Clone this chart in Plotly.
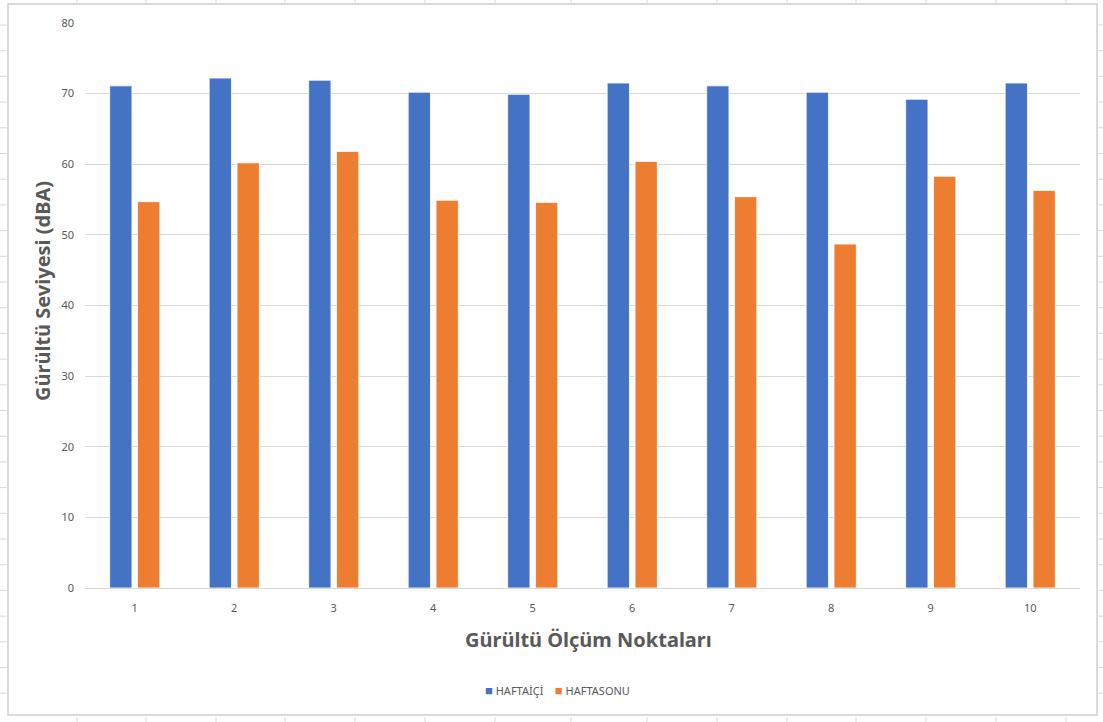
import plotly.graph_objects as go

# Measurement points and noise levels (dBA)
points = ["1", "2", "3", "4", "5", "6", "7", "8", "9", "10"]
haftaici = [71.1, 72.2, 71.9, 70.2, 69.9, 71.5, 71.1, 70.2, 69.2, 71.5]
haftasonu = [54.7, 60.2, 61.8, 54.9, 54.6, 60.4, 55.4, 48.7, 58.3, 56.3]
y_ticks = [0, 10, 20, 30, 40, 50, 60, 70, 80]
series_names = ["HAFTAİÇİ", "HAFTASONU"]
series_colors = ["#4472C4", "#ED7D31"]

W, H = 1103, 722
L, R, T, B = 85, 1080, 23, 588  # plot area in pixels

def px(x):
    return (x - L) / (R - L)

def py(y):
    return (B - y) / (B - T)

TEXT = "#595959"
GRID = "#d9d9d9"
SHEET = "#dadada"
FONT = "Noto Sans, Open Sans, sans-serif"

fig = go.Figure()
for name, vals, col in zip(series_names, [haftaici, haftasonu], series_colors):
    fig.add_trace(go.Bar(
        x=points, y=vals, name=name, showlegend=False,
        marker=dict(color=col, line=dict(color="#ffffff", width=0.8)),
    ))

shapes = []
# spreadsheet cell lines around the chart object
col_x = [77, 146, 216, 285, 355, 425, 495, 571, 647, 717, 787, 856, 926, 996, 1066]
for cx in col_x:
    for y0, y1 in ((0, 4), (717, 722)):
        shapes.append(dict(type="line", xref="paper", yref="paper",
                           x0=px(cx), x1=px(cx), y0=py(y0), y1=py(y1),
                           line=dict(color=SHEET, width=1)))
for k in range(27):
    ry = 25 + 25.7 * k
    for x0, x1 in ((0, 8), (1097, 1103)):
        shapes.append(dict(type="line", xref="paper", yref="paper",
                           x0=px(x0), x1=px(x1), y0=py(ry), y1=py(ry),
                           line=dict(color=SHEET, width=1)))
# chart frame
shapes.append(dict(type="rect", xref="paper", yref="paper",
                   x0=px(8), x1=px(1097), y0=py(715), y1=py(4),
                   line=dict(color="#d0d0d0", width=1.5), layer="below"))

# compact legend row under the axis title
legend_text = "&nbsp;&nbsp;&nbsp;&nbsp;".join(
    f"<span style='color:{c};font-size:13px'>■</span>"
    f"<span style='color:{TEXT}'>&nbsp;{n}</span>"
    for n, c in zip(series_names, series_colors)
)
annotations = [
    dict(text=legend_text, xref="paper", yref="paper",
         x=px(557), y=py(690), xanchor="center", yanchor="middle",
         showarrow=False, font=dict(size=11, color=TEXT, family=FONT)),
    dict(text="<b>Gürültü Seviyesi (dBA)</b>", xref="paper", yref="paper",
         x=px(42), y=py(291), xanchor="center", yanchor="middle", textangle=-90,
         showarrow=False, font=dict(size=20, color=TEXT, family=FONT)),
    dict(text="<b>Gürültü Ölçüm Noktaları</b>", xref="paper", yref="paper",
         x=px(588), y=py(639), xanchor="center", yanchor="middle",
         showarrow=False, font=dict(size=20, color=TEXT, family=FONT)),
]

fig.update_layout(
    width=W, height=H,
    margin=dict(l=L, r=W - R, t=T, b=H - B),
    paper_bgcolor="white", plot_bgcolor="white",
    barmode="group", bargap=0.44, bargroupgap=0.2,
    font=dict(family=FONT, color=TEXT, size=11),
    shapes=shapes, annotations=annotations,
    xaxis=dict(
        showgrid=False, showline=True, linecolor=GRID, linewidth=1,
        ticks="", tickfont=dict(size=11, color=TEXT), ticklabelstandoff=10,
    ),
    yaxis=dict(
        range=[0, 80], tickvals=y_ticks, showgrid=True, gridcolor=GRID, gridwidth=1,
        zeroline=False, showline=False, ticks="",
        tickfont=dict(size=11, color=TEXT), ticklabelstandoff=10,
    ),
)

fig.write_html("out.html")
